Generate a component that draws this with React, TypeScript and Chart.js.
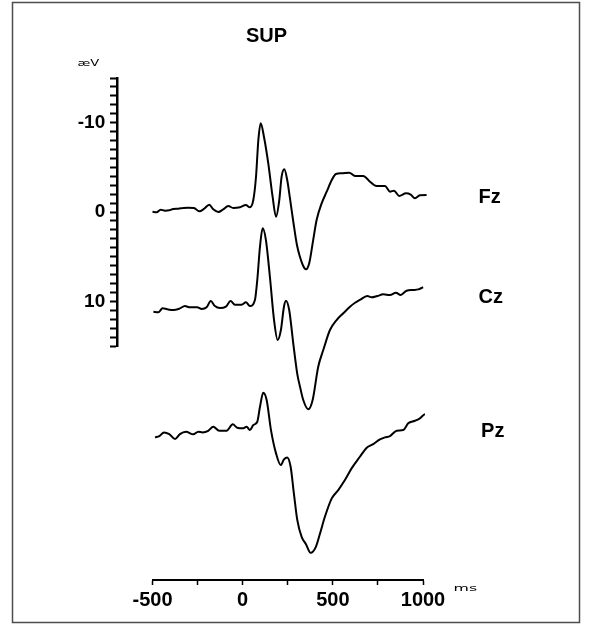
import React, { useEffect, useRef } from 'react';
import { Chart, registerables } from 'chart.js';

Chart.register(...registerables);

// ---- data (time in ms, amplitude in µV as plotted, negative up) ----
const TITLE = 'SUP';
const CHANNELS = ['Fz', 'Cz', 'Pz'];
const X_LABELED_TICKS = [-500, 0, 500, 1000];
const Y_LABELED_TICKS = [-10, 0, 10];
const Y_UNIT = 'æV';
const X_UNIT = 'ms';

const FZ_MS = [-500, -477, -455, -431, -407, -385, -357, -329, -302, -270, -241, -215, -185, -163, -135, -108, -80, -52, -15, 18, 40, 59, 74, 87, 100, 118, 142, 166, 185, 203, 216, 231, 247, 262, 281, 301, 318, 336, 351, 369, 391, 410, 438, 466, 494, 517, 549, 591, 623, 669, 706, 743, 789, 817, 839, 868, 906, 932, 955, 983, 1020, 1051];
const FZ_UV = [-0.03, 0.03, -0.26, -0.15, -0.19, -0.34, -0.37, -0.45, -0.48, -0.45, -0.08, -0.34, -0.82, -0.3, 0, -0.3, -0.67, -0.45, -0.53, -0.78, -0.53, -1.34, -3.95, -8.06, -9.93, -8.43, -5.45, -1.71, 0.53, -1.34, -3.95, -4.78, -3.58, -1.57, 1.12, 3.7, 5.04, 6.05, 6.42, 5.74, 3.14, 0.9, -0.97, -2.27, -3.58, -4.26, -4.33, -4.4, -4.03, -4.03, -3.39, -2.91, -2.91, -2.27, -2.39, -1.79, -2.09, -1.94, -1.53, -1.87, -1.9, -1.23];

const CZ_MS = [-495, -468, -444, -418, -385, -352, -320, -292, -252, -227, -200, -177, -154, -126, -93, -67, -43, -6, 18, 40, 68, 81, 96, 111, 129, 151, 174, 194, 212, 229, 240, 258, 281, 303, 318, 336, 364, 388, 419, 447, 484, 521, 558, 595, 623, 650, 691, 715, 746, 780, 817, 850, 876, 909, 946, 974, 1001, 1039, 1061];
const CZ_UV = [11.16, 11.23, 10.78, 10.89, 10.97, 10.83, 10.53, 10.67, 10.67, 10.86, 10.67, 9.97, 10.53, 10.75, 10.6, 9.97, 10.38, 10.38, 10.11, 10.53, 9.85, 7.61, 3.89, 1.83, 3.14, 7.25, 12.09, 14.33, 13.21, 10.6, 9.93, 10.97, 14.78, 18.14, 19.56, 21.05, 22.09, 21.05, 17.32, 15.45, 13.21, 12.09, 11.34, 10.6, 10.16, 9.85, 9.41, 9.55, 9.41, 9.22, 9.29, 9.04, 9.29, 8.81, 8.73, 8.66, 8.43, 8.21, 8.54];

const PZ_MS = [-486, -462, -436, -407, -375, -348, -314, -274, -246, -222, -191, -163, -130, -89, -55, -30, 0, 22, 40, 59, 81, 96, 114, 133, 157, 185, 211, 229, 247, 266, 284, 303, 327, 351, 377, 406, 429, 456, 494, 530, 567, 604, 650, 688, 724, 761, 789, 817, 854, 891, 918, 955, 983, 1011, 1039, 1062];
const PZ_UV = [25.23, 25.08, 24.67, 24.86, 25.42, 24.86, 24.6, 24.89, 24.6, 24.67, 24.49, 24.04, 24.49, 24.49, 23.77, 24.15, 24.22, 24.04, 24.41, 23.85, 23.48, 21.8, 20.24, 21.05, 24.41, 27.02, 28.33, 27.69, 27.47, 28.52, 31.5, 34.49, 36.36, 37.18, 38.15, 37.48, 35.98, 34.12, 32.06, 31.13, 30.01, 28.7, 27.4, 26.39, 25.98, 25.45, 25.23, 25.08, 24.49, 24.41, 23.66, 23.37, 23.1, 22.65, 22.65, 22.62];

const SERIES = [
  { name: CHANNELS[0], ms: FZ_MS, uv: FZ_UV },
  { name: CHANNELS[1], ms: CZ_MS, uv: CZ_UV },
  { name: CHANNELS[2], ms: PZ_MS, uv: PZ_UV },
];

const W = 594;
const H = 637;
const BOLD = '"Liberation Sans", Arial, Helvetica, sans-serif';

const annotate = {
  id: 'annotate',
  beforeDraw(chart: any) {
    const ctx = chart.ctx;
    ctx.save();
    ctx.fillStyle = '#fff';
    ctx.fillRect(0, 0, chart.width, chart.height);
    ctx.strokeStyle = '#4d4d4d';
    ctx.lineWidth = 1.5;
    ctx.strokeRect(12.5, 2.5, 567, 620);
    ctx.restore();
  },
  afterDraw(chart: any) {
    const { ctx } = chart;
    const xs = chart.scales.x;
    const ys = chart.scales.y;
    const px = (v: number) => xs.getPixelForValue(v);
    const py = (v: number) => ys.getPixelForValue(v);
    ctx.save();
    ctx.fillStyle = '#000';
    ctx.textAlign = 'center';
    ctx.textBaseline = 'middle';
    ctx.font = `bold 20px ${BOLD}`;
    ctx.fillText(TITLE, px(132), py(-19.6));
    const anchors: Record<string, [number, number]> = {
      Fz: [1370, -1.6],
      Cz: [1376, 9.6],
      Pz: [1387, 24.6],
    };
    SERIES.forEach((s) => {
      const a = anchors[s.name];
      ctx.fillText(s.name, px(a[0]), py(a[1]));
    });
    // units (small, horizontally stretched)
    ctx.font = `9px "DejaVu Sans", sans-serif`;
    ctx.save();
    ctx.translate(px(-856), py(-16.6));
    ctx.scale(1.45, 1);
    ctx.fillText(Y_UNIT, 0, 0);
    ctx.restore();
    ctx.save();
    ctx.translate(px(1235), py(42.2));
    ctx.scale(1.75, 1);
    ctx.fillText(X_UNIT, 0, 0);
    ctx.restore();
    ctx.restore();
  },
};

export default function App() {
  const ref = useRef<HTMLCanvasElement | null>(null);
  useEffect(() => {
    if (!ref.current) return;
    const chart = new Chart(ref.current, {
      type: 'line',
      data: {
        datasets: SERIES.map((s) => ({
          label: s.name,
          data: s.ms.map((t, i) => ({ x: t, y: s.uv[i] })),
          borderColor: '#000',
          borderWidth: 2,
          pointRadius: 0,
          fill: false,
          cubicInterpolationMode: 'monotone' as const,
          clip: false as any,
          yAxisID: 'y',
          xAxisID: 'x',
        })),
      },
      options: {
        responsive: false,
        animation: false,
        events: [],
        layout: { padding: { left: 152.5, right: 171, top: 78, bottom: 291 } },
        plugins: { legend: { display: false }, tooltip: { enabled: false }, title: { display: false } },
        scales: {
          x: {
            type: 'linear',
            axis: 'x',
            position: { y: 41.2 } as any,
            min: -500,
            max: 1000,
            border: { display: true, color: '#000', width: 2 },
            grid: { display: true, drawOnChartArea: false, drawTicks: true, tickLength: 4, tickWidth: 1.5, tickColor: '#000' },
            ticks: {
              stepSize: 250,
              autoSkip: false,
              maxRotation: 0,
              padding: 4,
              color: '#000',
              font: { family: BOLD, size: 20, weight: 'bold' },
              callback: (v: any) => (X_LABELED_TICKS.includes(Number(v)) ? String(v) : ''),
            },
          },
          y: {
            type: 'linear',
            axis: 'y',
            position: { x: -694 } as any,
            reverse: true,
            min: -15,
            max: 15,
            border: { display: true, color: '#000', width: 2.5 },
            grid: { display: true, drawOnChartArea: false, drawTicks: true, tickLength: 6, tickWidth: 2, tickColor: '#000' },
            ticks: { stepSize: 1, autoSkip: false, display: false },
          },
          yLabels: {
            type: 'linear',
            axis: 'y',
            position: { x: -762 } as any,
            reverse: true,
            min: -15,
            max: 15,
            border: { display: false },
            grid: { display: false },
            ticks: {
              stepSize: 1,
              autoSkip: false,
              padding: 0,
              color: '#000',
              font: { family: BOLD, size: 19, weight: 'bold' },
              callback: (v: any) => (Y_LABELED_TICKS.includes(Number(v)) ? String(v) : ''),
            },
          },
        },
      },
      plugins: [annotate],
    });
    return () => chart.destroy();
  }, []);
  return (
    <div style={{ position: 'absolute', left: 0, top: 0, width: W, height: H, background: '#fff' }}>
      <canvas ref={ref} width={W} height={H} style={{ display: 'block' }} />
    </div>
  );
}
